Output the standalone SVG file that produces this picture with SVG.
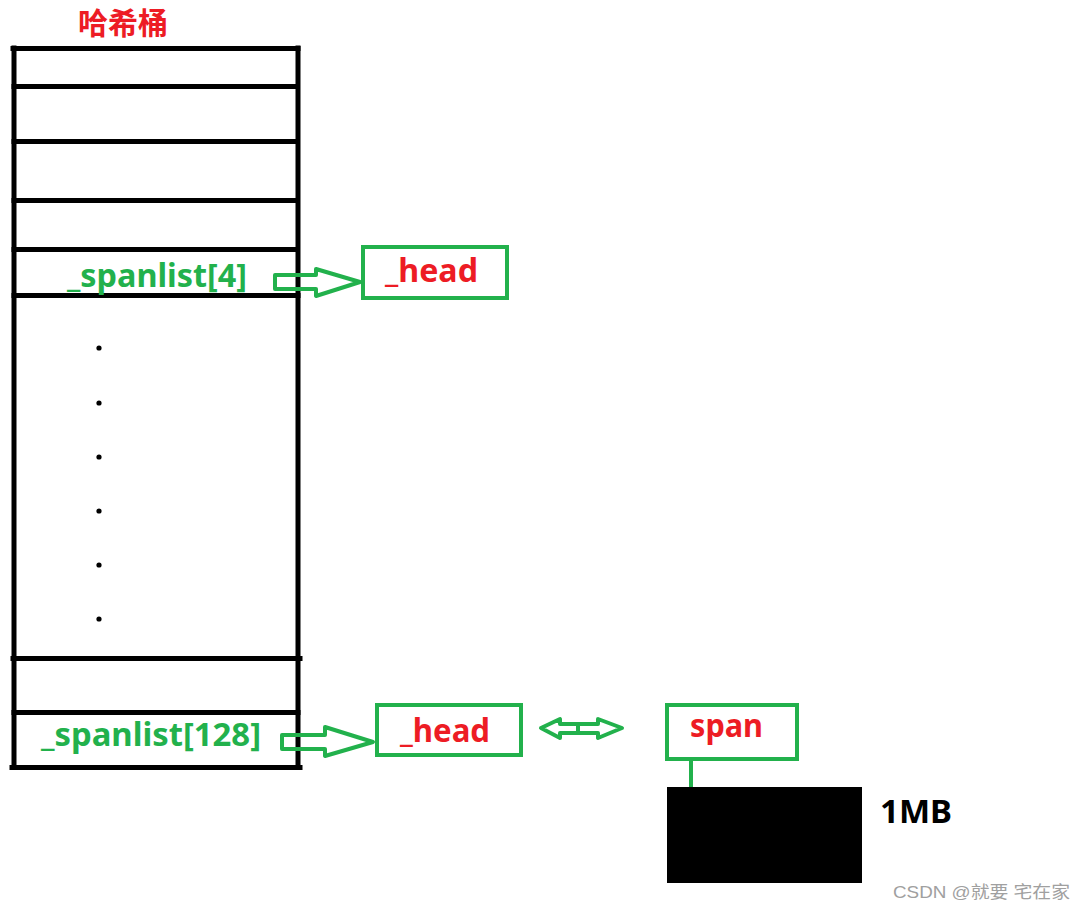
<svg xmlns="http://www.w3.org/2000/svg" width="1085" height="912" viewBox="0 0 1085 912">
<style>
.blk{stroke:#000;stroke-width:5;fill:none;stroke-linecap:square}
.gbox{fill:#fff;stroke:#22b14c;stroke-width:4}
.garrow{fill:none;stroke:#22b14c;stroke-width:4;stroke-linejoin:round}
.lbl{font-family:"Noto Sans","Liberation Sans",sans-serif;font-weight:bold;font-size:32px}
.red{fill:#ed1c24}
.grn{fill:#22b14c}
</style>
<rect width="1085" height="912" fill="#fff"/>
<g id="title">
<text x="78" y="34" class="red" font-family="'Noto Sans CJK SC',sans-serif" font-weight="bold" font-size="30">哈希桶</text>
</g>
<g id="bucket">
<line class="blk" x1="14" y1="48" x2="14" y2="767" stroke-width="6"/>
<line class="blk" x1="298" y1="48" x2="298" y2="767" stroke-width="6"/>
<line class="blk" x1="13" y1="48.5" x2="298" y2="48.5"/>
<line class="blk" x1="14" y1="86.5" x2="296" y2="86.5"/>
<line class="blk" x1="14" y1="141.5" x2="296" y2="141.5"/>
<line class="blk" x1="14" y1="200.5" x2="296" y2="200.5"/>
<line class="blk" x1="14" y1="249.5" x2="296" y2="249.5"/>
<line class="blk" x1="14" y1="295.5" x2="298" y2="295.5"/>
<line class="blk" x1="13" y1="658.5" x2="300" y2="658.5" stroke-width="6"/>
<line class="blk" x1="14" y1="712.5" x2="298" y2="712.5"/>
<line class="blk" x1="12" y1="767.5" x2="300" y2="767.5" stroke-width="6"/>
<text x="67" y="287" class="lbl grn" textLength="180" lengthAdjust="spacingAndGlyphs">_spanlist[4]</text>
<text x="41" y="746" class="lbl grn" textLength="220" lengthAdjust="spacingAndGlyphs">_spanlist[128]</text>
<g fill="#000">
<circle cx="99" cy="348" r="2.6"/>
<circle cx="99" cy="403" r="2.6"/>
<circle cx="99" cy="457" r="2.6"/>
<circle cx="99" cy="511" r="2.6"/>
<circle cx="99" cy="565" r="2.6"/>
<circle cx="99" cy="619" r="2.6"/>
</g>
</g>
<g id="head1">
<rect class="gbox" x="363" y="247" width="144" height="51"/>
<text x="385" y="282" class="lbl red" textLength="93" lengthAdjust="spacingAndGlyphs">_head</text>
</g>
<g id="head2">
<rect class="gbox" x="377" y="705" width="144" height="50"/>
<text x="400" y="742" class="lbl red" textLength="90" lengthAdjust="spacingAndGlyphs">_head</text>
</g>
<g id="span">
<rect class="gbox" x="667" y="705" width="130" height="54"/>
<text x="690" y="737" class="lbl red" textLength="73" lengthAdjust="spacingAndGlyphs">span</text>
</g>
<g id="block">
<rect x="667" y="787" width="195" height="96" fill="#000"/>
<text x="880" y="823" class="lbl" fill="#000" textLength="72" lengthAdjust="spacingAndGlyphs">1MB</text>
</g>
<g id="connectors">
<polygon class="garrow" points="275,275 316,275 316,269 360,282 316,296 316,289 275,289"/>
<polygon class="garrow" points="282,735 325,735 325,727 373,742 325,756 325,749 282,749"/>
<polygon class="garrow" points="541,728 560,719 560,724 598,724 598,719 622,728 598,738 598,733 560,733 560,738"/>
<line x1="578" y1="724" x2="578" y2="733" stroke="#22b14c" stroke-width="4"/>
<line x1="691" y1="759" x2="691" y2="787" stroke="#22b14c" stroke-width="4"/>
</g>
<text x="893" y="898" font-family="'Liberation Sans','Noto Sans CJK SC',sans-serif" font-size="17" fill="#a0a0a0" textLength="177" lengthAdjust="spacingAndGlyphs">CSDN @就要 宅在家</text>
</svg>
